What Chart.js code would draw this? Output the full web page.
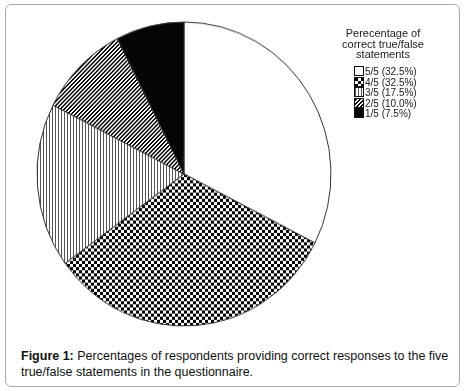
<!DOCTYPE html>
<html>
<head>
<meta charset="utf-8">
<script src="https://cdn.jsdelivr.net/npm/chart.js@4.4.1/dist/chart.umd.min.js"></script>
<style>
  html, body { margin: 0; padding: 0; background: #fff; }
  body { width: 466px; height: 391px; position: relative; overflow: hidden; font-family: "Liberation Sans", Arial, sans-serif; }
  #frame { position: absolute; left: 5px; top: 4px; width: 453px; height: 381px; border: 1px solid #aaa; border-radius: 6px; }
  #pieBox { position: absolute; left: 34px; top: 24px; width: 300px; height: 300px; transform: scaleY(1.034); transform-origin: 50% 50%; }
  #legendTitle { position: absolute; left: 330px; width: 106px; top: 28px; text-align: center; font-size: 11px; line-height: 10.5px; color: #222; }
  #legendItems { position: absolute; left: 354px; top: 66px; font-size: 10px; color: #222; }
  .item { height: 10.6px; line-height: 10.6px; white-space: nowrap; }
  .sw { display: inline-block; width: 8px; height: 8px; border: 1px solid #111; vertical-align: -1px; margin-right: 1px; }
  #caption { position: absolute; left: 21px; top: 349px; width: 440px; font-size: 12.5px; line-height: 15.5px; color: #111; }
</style>
</head>
<body>
<div id="frame"></div>
<div id="pieBox"><canvas id="pie" width="300" height="300"></canvas></div>
<div id="legendTitle">Perecentage of<br>correct true/false<br>statements</div>
<div id="legendItems"></div>
<div id="caption"><b>Figure 1:</b> Percentages of respondents providing correct responses to the five true/false statements in the questionnaire.</div>
<script>
// dữ liệu
const categories = ['5/5', '4/5', '3/5', '2/5', '1/5'];
const percents = [32.5, 32.5, 17.5, 10.0, 7.5];
const fills = ['white', 'checker', 'vertical', 'diagonal', 'black'];

// tạo mẫu hoa văn
function makeTile(kind) {
    const c = document.createElement('canvas');
    const ctx = c.getContext('2d');
    if (kind === 'checker') {
        c.width = 6; c.height = 6;
        ctx.fillStyle = '#fff'; ctx.fillRect(0, 0, 6, 6);
        ctx.fillStyle = '#000';
        ctx.fillRect(0, 0, 3, 3); ctx.fillRect(3, 3, 3, 3);
    } else if (kind === 'vertical') {
        c.width = 3; c.height = 3;
        ctx.fillStyle = '#fff'; ctx.fillRect(0, 0, 3, 3);
        ctx.fillStyle = '#555'; ctx.fillRect(0, 0, 1, 3);
    } else if (kind === 'diagonal') {
        c.width = 4; c.height = 4;
        ctx.fillStyle = '#fff'; ctx.fillRect(0, 0, 4, 4);
        ctx.fillStyle = '#000';
        for (let x = 0; x < 4; x++) for (let y = 0; y < 4; y++) {
            if ((x + y) % 4 < 2) ctx.fillRect(x, y, 1, 1);
        }
    } else {
        c.width = 2; c.height = 2;
        ctx.fillStyle = kind === 'black' ? '#050505' : '#fff';
        ctx.fillRect(0, 0, 2, 2);
    }
    return c;
}

const tiles = fills.map(makeTile);
const pctx = document.getElementById('pie').getContext('2d');
const patterns = tiles.map(t => pctx.createPattern(t, 'repeat'));

new Chart(pctx, {
    type: 'pie',
    data: {
        labels: categories,
        datasets: [{ data: percents, backgroundColor: patterns, borderColor: '#333', borderWidth: 1, radius: 147 }]
    },
    options: {
        responsive: false,
        animation: false,
        events: [],
        layout: { padding: 0 },
        plugins: { legend: { display: false }, tooltip: { enabled: false } }
    }
});

// chú thích
document.getElementById('legendItems').innerHTML = categories.map((c, i) => `
    <div class="item"><span class="sw" style="background-image:url(${tiles[i].toDataURL()})"></span>${c} (${percents[i].toFixed(1)}%)</div>
`).join('');
</script>
</body>
</html>
